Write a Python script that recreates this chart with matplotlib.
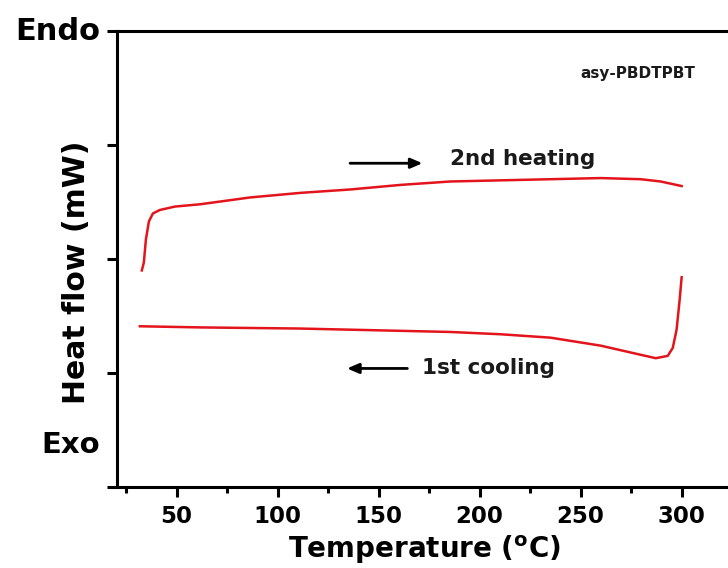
import matplotlib.pyplot as plt

plt.rcParams['font.family'] = ['DejaVu Sans']
plt.rcParams['font.weight'] = 'bold'
plt.rcParams['mathtext.fontset'] = 'dejavusans'

# 2nd heating curve
heat_t = [32.8, 33.8, 34.8, 36.3, 38.3, 41.7, 49.2, 61.6, 86.4, 111.2, 136.0,
          160.8, 185.5, 210.3, 235.1, 259.9, 279.7, 289.6, 300.0]
heat_q = [1.90, 1.97, 2.17, 2.33, 2.40, 2.43, 2.46, 2.48, 2.54, 2.58, 2.61,
          2.65, 2.68, 2.69, 2.70, 2.71, 2.70, 2.68, 2.64]

# 1st cooling curve
cool_t = [300.0, 299.0, 297.5, 295.6, 293.1, 287.2, 279.7, 259.9, 235.1,
          210.3, 185.5, 160.8, 111.2, 61.6, 31.8]
cool_q = [1.84, 1.64, 1.38, 1.22, 1.15, 1.13, 1.16, 1.24, 1.31,
          1.34, 1.36, 1.37, 1.39, 1.40, 1.41]

x_ticks = [50, 100, 150, 200, 250, 300]
red = '#e3141b'

fig = plt.figure(figsize=(7.28, 5.68), dpi=100)
ax = fig.add_axes([0.1607, 0.1426, 0.845, 0.8028])

ax.plot(heat_t, heat_q, color=red, lw=1.8)
ax.plot(cool_t, cool_q, color=red, lw=1.8)

ax.set_xlim(20.5, 325)
ax.set_ylim(0, 4)
ax.set_xticks(x_ticks)
ax.set_xticks([25, 75, 125, 175, 225, 275, 325], minor=True)
ax.set_yticks([0, 1, 2, 3, 4])
ax.set_yticklabels([])

for s in ax.spines.values():
    s.set_linewidth(2.2)
ax.tick_params(axis='both', which='major', direction='out', width=2.2, length=7,
               labelsize=16.5, pad=6)
ax.tick_params(axis='x', which='minor', direction='out', width=2.2, length=4)

ax.set_xlabel(r'Temperature ($^{\mathbf{o}}$C)', fontsize=20, fontweight='bold',
              labelpad=4)
ax.set_ylabel('Heat flow (mW)', fontsize=21.5, fontweight='bold')
ax.yaxis.set_label_coords(-0.043, 0.471)

# Endo / Exo
ax.text(-0.028, 4.0, 'Endo', transform=ax.get_yaxis_transform(), ha='right',
        va='center', fontsize=22, fontweight='bold')
ax.text(-0.028, 0.37, 'Exo', transform=ax.get_yaxis_transform(), ha='right',
        va='center', fontsize=21, fontweight='bold')

# arrows and labels
arrow_style = '-|>,head_length=0.7,head_width=0.3'
ax.annotate('', xy=(173.1, 2.84), xytext=(134.5, 2.84),
            arrowprops=dict(arrowstyle=arrow_style, color='black', lw=2))
ax.text(185.5, 2.88, '2nd heating', fontsize=15.5, fontweight='bold', va='center',
        color='#1a1a1a')
ax.annotate('', xy=(133.0, 1.04), xytext=(165.6, 1.04),
            arrowprops=dict(arrowstyle=arrow_style, color='black', lw=2))
ax.text(171.6, 1.04, '1st cooling', fontsize=15.5, fontweight='bold', va='center',
        color='#1a1a1a')
ax.text(250.0, 3.63, 'asy-PBDTPBT', fontsize=11, fontweight='bold', va='center',
        color='#1a1a1a')

fig.savefig('out.png', dpi=100)
